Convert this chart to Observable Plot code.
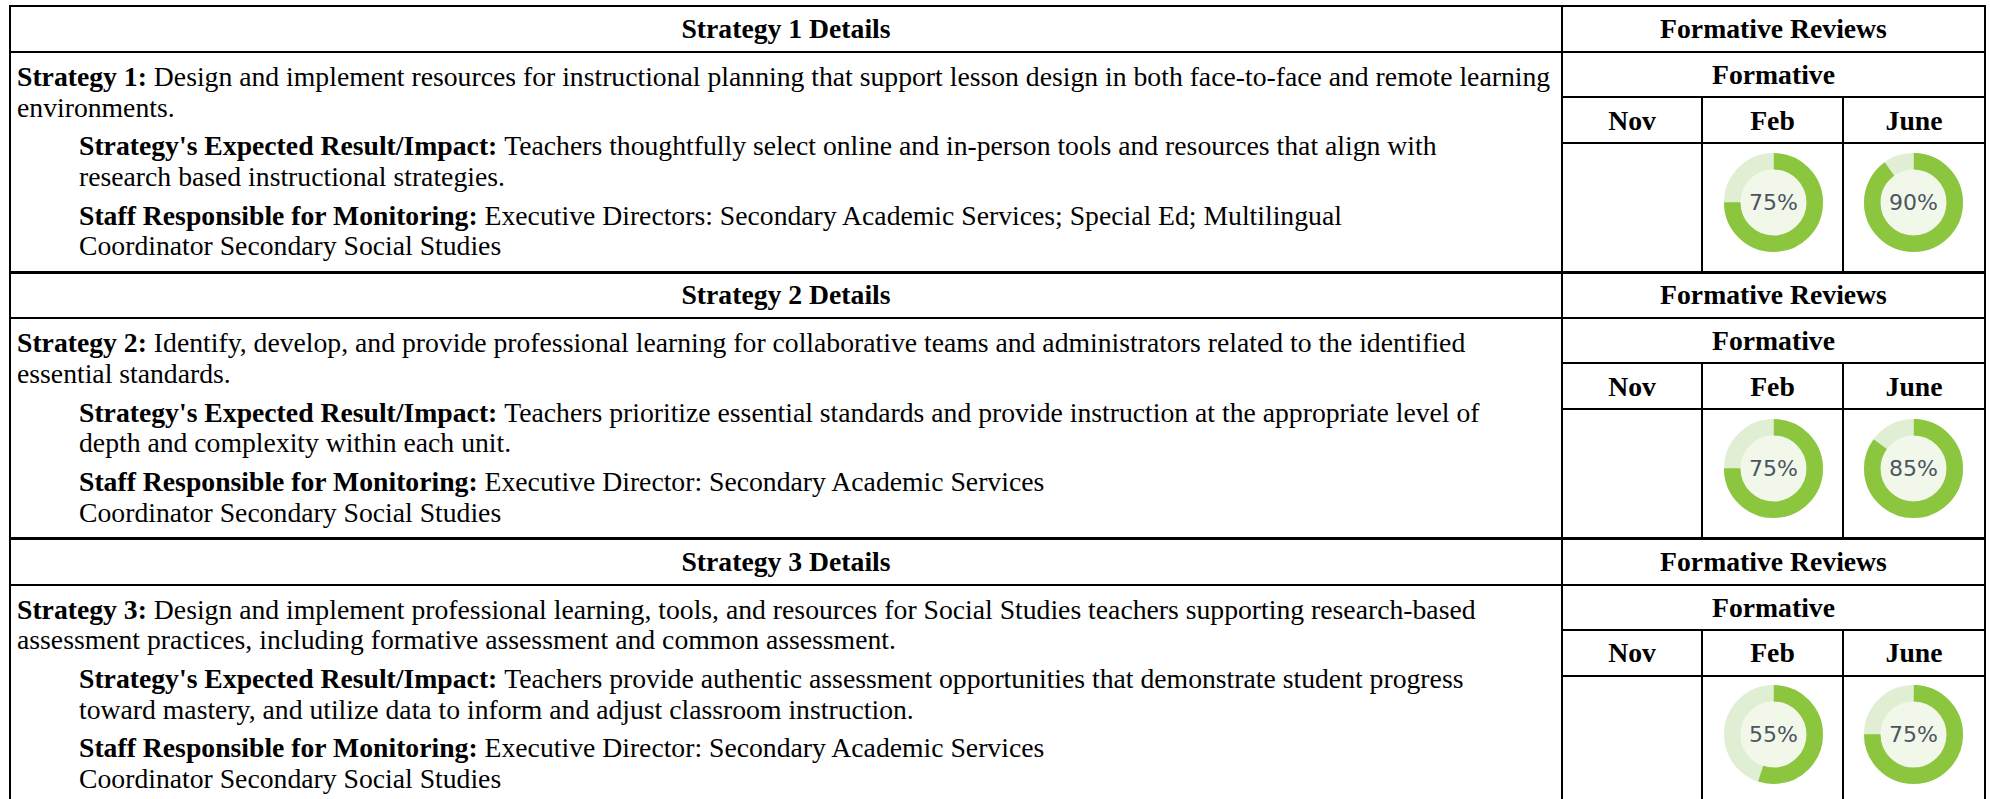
<!DOCTYPE html>
<html>
<head>
<meta charset="utf-8">
<script src="https://cdn.jsdelivr.net/npm/d3@7"></script>
<script src="https://cdn.jsdelivr.net/npm/@observablehq/plot@0.6"></script>
<style>
  html, body { margin: 0; padding: 0; background: #fff; }
  #page { position: relative; width: 1990px; height: 799px; overflow: hidden; background: #fff;
    font-family: "Liberation Serif", "Times New Roman", serif; font-size: 27.7px; color: #000; }
  .hl { position: absolute; background: #000; }
  .vl { position: absolute; background: #000; }
  .cell { position: absolute; display: flex; align-items: center; justify-content: center; font-weight: bold; white-space: nowrap; line-height: 30.7px; }
  .bodytext { position: absolute; box-sizing: border-box; }
  .p { line-height: 30.7px; white-space: nowrap; }
  .p.main { margin-left: 7px; }
  .p.nest { margin-left: 69px; margin-top: 8px; }
  .ln { height: 30.7px; }
  .lbl { font-weight: bold; }
  #chart { position: absolute; left: 0; top: 0; pointer-events: none; }
</style>
</head>
<body>
<div id="page"></div>
<script>
// ---- data ----
const strategies = ["Strategy 1", "Strategy 2", "Strategy 3"];
// text of each paragraph, split where the reference wraps its lines
const strategyText = [
  ["Design and implement resources for instructional planning that support lesson design in both face-to-face and remote learning", "environments."],
  ["Identify, develop, and provide professional learning for collaborative teams and administrators related to the identified", "essential standards."],
  ["Design and implement professional learning, tools, and resources for Social Studies teachers supporting research-based", "assessment practices, including formative assessment and common assessment."]
];
const expectedImpact = [
  ["Teachers thoughtfully select online and in-person tools and resources that align with", "research based instructional strategies."],
  ["Teachers prioritize essential standards and provide instruction at the appropriate level of", "depth and complexity within each unit."],
  ["Teachers provide authentic assessment opportunities that demonstrate student progress", "toward mastery, and utilize data to inform and adjust classroom instruction."]
];
const staffResponsible = [
  ["Executive Directors: Secondary Academic Services; Special Ed; Multilingual", "Coordinator Secondary Social Studies"],
  ["Executive Director: Secondary Academic Services", "Coordinator Secondary Social Studies"],
  ["Executive Director: Secondary Academic Services", "Coordinator Secondary Social Studies"]
];
const months = ["Nov", "Feb", "June"];
const novValues = [null, null, null];
const febValues = [75, 75, 55];
const juneValues = [90, 85, 75];
const reviewHeader = "Formative Reviews";
const reviewSubHeader = "Formative";
const impactLabel = "Strategy's Expected Result/Impact:";
const staffLabel = "Staff Responsible for Monitoring:";

// ---- layout ----
const page = document.getElementById("page");
const L = 10, D = 1562, M1 = 1702, M2 = 1843, R = 1985;
const T0 = 6, STEP = 266.3;
const colEdges = [D, M1, M2, R];

function hline(x1, x2, y, t) {
  const e = document.createElement("div");
  e.className = "hl";
  Object.assign(e.style, {left: (x1 - 1) + "px", width: (x2 - x1 + 2) + "px", top: (y - t / 2) + "px", height: t + "px"});
  page.appendChild(e);
}
function vline(x, y1, y2, t) {
  const e = document.createElement("div");
  e.className = "vl";
  Object.assign(e.style, {left: (x - t / 2) + "px", width: t + "px", top: (y1 - 1) + "px", height: (y2 - y1 + 2) + "px"});
  page.appendChild(e);
}
function cell(x1, x2, y1, y2, text) {
  const e = document.createElement("div");
  e.className = "cell";
  Object.assign(e.style, {left: x1 + "px", width: (x2 - x1) + "px", top: y1 + "px", height: (y2 - y1) + "px"});
  e.textContent = text;
  page.appendChild(e);
}
function paragraph(cls, label, lines) {
  const p = document.createElement("div");
  p.className = "p " + cls;
  lines.forEach((line, k) => {
    const ln = document.createElement("div");
    ln.className = "ln";
    if (k === 0) {
      const b = document.createElement("span");
      b.className = "lbl";
      b.textContent = label;
      ln.appendChild(b);
      const t = document.createElement("span");
      t.textContent = "\u00a0" + line;
      ln.appendChild(t);
    } else {
      const t = document.createElement("span");
      t.textContent = line;
      ln.appendChild(t);
    }
    p.appendChild(ln);
  });
  return p;
}

strategies.forEach((s, i) => {
  const T = T0 + STEP * i;
  hline(L, R, T, i === 0 ? 2 : 3);
  hline(L, R, T + 46, 2);
  hline(D, R, T + 91, 2);
  hline(D, R, T + 137, 2);
  vline(M1, T + 91, T + STEP, 2);
  vline(M2, T + 91, T + STEP, 2);
  cell(L, D, T + 0.5, T + 46.5, s + " Details");
  cell(D, R, T + 0.5, T + 46.5, reviewHeader);
  cell(D, R, T + 47, T + 92, reviewSubHeader);
  months.forEach((m, j) => cell(colEdges[j], colEdges[j + 1], T + 92, T + 138, m));
  const b = document.createElement("div");
  b.className = "bodytext";
  Object.assign(b.style, {left: L + "px", width: (D - L) + "px", top: (T + 55.9) + "px"});
  b.appendChild(paragraph("main", s + ":", strategyText[i]));
  b.appendChild(paragraph("nest", impactLabel, expectedImpact[i]));
  b.appendChild(paragraph("nest", staffLabel, staffResponsible[i]));
  page.appendChild(b);
});
vline(L, T0, 805, 2);
vline(D, T0, 805, 2);
vline(R, T0, 805, 2);

// ---- donuts with Plot ----
const rows = [];
strategies.forEach((s, i) => {
  [novValues[i], febValues[i], juneValues[i]].forEach((v, j) => {
    if (v != null) rows.push({strategy: s, month: months[j], value: v});
  });
});
const ringR = 41.25, ringW = 16.5;
const C = 2 * Math.PI * ringR;

const chart = Plot.plot({
  width: 1990,
  height: 799,
  margin: 0,
  style: {background: "transparent"},
  x: {type: "point", domain: months, range: [1632, 1913], padding: 0, axis: null},
  y: {type: "point", domain: strategies, range: [201, 734], padding: 0, axis: null},
  marks: [
    Plot.dot(rows, {x: "month", y: "strategy", r: 33, fill: "#f1f8ea", stroke: null}),
    Plot.dot(rows, {x: "month", y: "strategy", r: ringR, fill: "none", stroke: "#e0eed4", strokeWidth: ringW}),
    ...rows.map(d => Plot.dot([d], {
      x: "month", y: "strategy", r: ringR, fill: "none", stroke: "#8cc63f", strokeWidth: ringW,
      strokeDasharray: `${C * d.value / 100} ${C * (1 - d.value / 100)}`,
      strokeDashoffset: C / 4
    })),
    Plot.text(rows, {x: "month", y: "strategy", text: d => `${d.value}%`,
      fontFamily: "DejaVu Sans", fontSize: 22, fill: "#4c5462"})
  ]
});
chart.id = "chart";
page.appendChild(chart);
</script>
</body>
</html>
